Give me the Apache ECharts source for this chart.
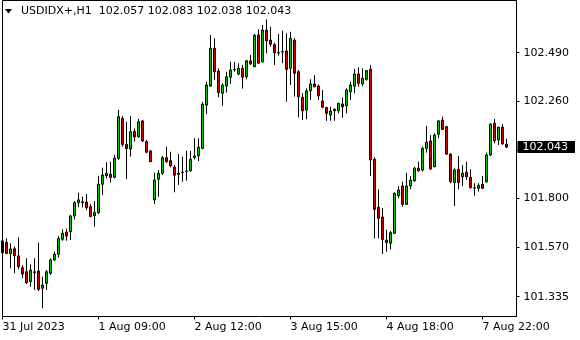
<!DOCTYPE html>
<html><head><meta charset="utf-8">
<script src="https://cdn.jsdelivr.net/npm/echarts@6/dist/echarts.min.js"></script>
<style>html,body{margin:0;padding:0;background:#fff}#c{width:580px;height:340px}</style>
</head><body><div id="c"></div><script>
const symbol = 'USDIDX+,H1';
const opens = [101.543,101.592,101.539,101.562,101.528,101.472,101.453,101.406,101.453,101.457,
101.375,101.398,101.446,101.509,101.536,101.607,101.641,101.643,101.717,101.780,
101.785,101.783,101.761,101.718,101.733,101.867,101.908,101.914,101.900,101.990,
102.179,102.056,102.034,102.118,102.092,102.167,102.069,102.025,101.793,101.891,
101.919,101.993,101.979,101.948,101.919,101.923,101.928,101.931,101.993,102.002,
102.037,102.242,102.332,102.511,102.403,102.298,102.332,102.374,102.409,102.389,
102.416,102.376,102.451,102.424,102.574,102.447,102.597,102.550,102.528,102.490,
102.493,102.498,102.416,102.550,102.400,102.279,102.219,102.310,102.342,102.332,
102.261,102.230,102.195,102.215,102.215,102.247,102.239,102.305,102.332,102.389,
102.342,102.364,102.411,101.985,101.758,101.712,101.602,101.588,101.635,101.813,
101.859,101.772,101.859,101.884,101.943,101.935,102.037,102.072,101.950,102.104,
102.171,102.140,102.010,101.875,101.938,101.903,101.924,101.900,101.850,101.848,
101.867,101.879,102.006,102.156,102.077,102.137,102.057];
const closes = [101.599,101.540,101.561,101.529,101.477,101.442,101.401,101.461,101.449,101.370,
101.390,101.453,101.509,101.536,101.611,101.635,101.622,101.717,101.780,101.793,
101.780,101.756,101.714,101.733,101.868,101.911,101.919,101.900,101.990,102.187,
102.056,102.037,102.116,102.092,102.163,102.072,102.019,101.974,101.887,101.919,
101.993,101.974,101.954,101.910,101.914,101.925,101.930,101.985,102.001,102.042,
102.246,102.337,102.511,102.400,102.301,102.337,102.376,102.408,102.411,102.416,
102.374,102.452,102.437,102.572,102.440,102.597,102.547,102.530,102.490,102.488,
102.495,102.411,102.558,102.393,102.282,102.215,102.309,102.342,102.329,102.286,
102.232,102.203,102.214,102.222,102.250,102.234,102.313,102.337,102.389,102.345,
102.369,102.405,101.982,101.749,101.706,101.606,101.592,101.638,101.824,101.840,
101.772,101.859,101.887,101.943,101.931,102.037,102.066,101.939,102.100,102.167,
102.127,102.010,101.879,101.935,101.876,101.919,101.903,101.851,101.851,101.862,
101.848,102.006,102.152,102.073,102.137,102.058,102.043];
const lows = [101.542,101.538,101.469,101.446,101.465,101.422,101.395,101.382,101.367,101.362,
101.280,101.367,101.438,101.504,101.520,101.600,101.600,101.603,101.701,101.758,
101.758,101.745,101.711,101.666,101.726,101.816,101.895,101.875,101.895,101.982,
102.045,101.891,101.998,102.069,102.088,102.067,102.014,101.973,101.774,101.808,
101.911,101.969,101.948,101.829,101.864,101.879,101.884,101.927,101.985,101.977,
102.033,102.200,102.329,102.361,102.279,102.239,102.301,102.342,102.400,102.384,
102.320,102.364,102.432,102.421,102.437,102.443,102.487,102.518,102.432,102.476,
102.440,102.258,102.337,102.282,102.184,102.171,102.175,102.266,102.326,102.266,
102.227,102.167,102.168,102.168,102.203,102.182,102.203,102.266,102.298,102.329,
102.332,102.357,101.906,101.611,101.611,101.537,101.548,101.559,101.632,101.801,
101.761,101.769,101.843,101.879,101.927,101.927,102.017,101.935,101.948,102.085,
102.124,102.006,101.872,101.764,101.843,101.859,101.887,101.848,101.813,101.832,
101.846,101.875,102.001,102.061,102.053,102.056,102.038];
const highs = [101.599,101.611,101.588,101.572,101.616,101.485,101.517,101.488,101.517,101.591,
101.430,101.461,101.517,101.548,101.622,101.654,101.657,101.722,101.788,101.827,
101.808,101.821,101.774,101.788,101.906,101.946,101.971,101.974,102.006,102.219,
102.190,102.163,102.190,102.132,102.176,102.171,102.077,102.029,101.922,101.935,
102.001,102.045,102.021,101.958,102.010,101.998,102.026,102.025,102.085,102.085,
102.257,102.353,102.574,102.558,102.416,102.345,102.400,102.447,102.447,102.440,
102.432,102.455,102.479,102.579,102.601,102.621,102.648,102.613,102.537,102.579,
102.594,102.582,102.589,102.558,102.408,102.299,102.321,102.364,102.384,102.340,
102.313,102.234,102.234,102.227,102.253,102.277,102.321,102.353,102.413,102.421,
102.416,102.408,102.432,101.995,101.843,101.755,101.652,101.646,101.829,101.859,
101.879,101.922,101.906,101.950,101.974,102.045,102.143,102.100,102.108,102.171,
102.187,102.144,102.014,101.943,102.001,101.958,101.974,101.938,101.872,101.872,
101.906,102.017,102.156,102.176,102.140,102.152,102.083];
const timeLabels = ['31 Jul 2023','1 Aug 09:00','2 Aug 12:00','3 Aug 15:00','4 Aug 18:00','7 Aug 22:00'];
const labelStep = 24;
const priceTicks = [101.335, 101.570, 101.800, 102.030, 102.260, 102.490];
const yMin = 101.2412, yMax = 102.7371;

const font = 'DejaVu Sans';
const n = opens.length;
const slots = n + 2;
const cats = Array.from({length: slots}, (_, i) => String(i));
const ohlc = opens.map((o, i) => [o, closes[i], lows[i], highs[i]]);
const last = n - 1;
const chart = echarts.init(document.getElementById('c'), null, {renderer: 'canvas'});
const showTick = (i) => i % labelStep === 0 && i < n;
const gTop = 0.5, gBottom = 23.5, gLeft = 0.5, gRight = 63.5;
chart.setOption({
  animation: false,
  backgroundColor: '#fff',
  title: {
    text: symbol + '  ' + [opens[last], highs[last], lows[last], closes[last]].map(v => v.toFixed(3)).join(' '),
    left: 21, top: 6, padding: 0,
    textStyle: {fontFamily: font, fontSize: 11, fontWeight: 'normal', color: '#000'}
  },
  grid: {left: gLeft, right: gRight, top: gTop, bottom: gBottom, show: false,
         outerBoundsMode: 'none', containLabel: false},
  xAxis: {
    type: 'category', data: cats, boundaryGap: true,
    axisLine: {show: false},
    axisTick: {show: true, length: 3, interval: showTick, alignWithLabel: true, lineStyle: {color: '#000'}},
    axisLabel: {interval: showTick, formatter: (v, i) => timeLabels[i / labelStep] || '',
                align: 'left', margin: 5, fontFamily: font, fontSize: 11, color: '#000'},
    splitLine: {show: false}
  },
  yAxis: {
    type: 'value', position: 'right', min: yMin, max: yMax, scale: true,
    axisLine: {show: true, lineStyle: {color: '#000'}},
    axisTick: {show: true, length: 3, customValues: priceTicks, lineStyle: {color: '#000'}},
    axisLabel: {customValues: priceTicks, formatter: v => v.toFixed(3), margin: 7,
                fontFamily: font, fontSize: 11, color: '#000'},
    splitLine: {show: false}
  },
  series: [{
    type: 'candlestick', data: ohlc, barWidth: 2,
    itemStyle: {color: '#00c800', color0: '#d00000', borderColor: '#000', borderColor0: '#000', borderWidth: 1}
  }]
});
const py = chart.convertToPixel({yAxisIndex: 0}, closes[last]);
const x0 = chart.convertToPixel({xAxisIndex: 0}, '0');
const band = chart.convertToPixel({xAxisIndex: 0}, '1') - x0;
const xRight = chart.convertToPixel({xAxisIndex: 0}, String(slots - 1)) + band / 2;
const yTop = chart.convertToPixel({yAxisIndex: 0}, yMax);
const yBot = chart.convertToPixel({yAxisIndex: 0}, yMin);
chart.setOption({
  graphic: [
    {type: 'rect', shape: {x: x0, y: yTop, width: xRight - x0, height: yBot - yTop},
     style: {fill: 'none', stroke: '#000', lineWidth: 1}, z: 50, silent: true},
    {type: 'polygon', shape: {points: [[5, 9], [12, 9], [8.5, 13.5]]}, style: {fill: '#000'}, z: 100},
    {type: 'text', x: xRight + 1, y: py, z: 100,
     style: {text: closes[last].toFixed(3), fill: '#fff', backgroundColor: '#000',
             padding: [1, 7, 0, 5], font: '11px "DejaVu Sans"', verticalAlign: 'middle', align: 'left'}}
  ]
});
</script></body></html>
